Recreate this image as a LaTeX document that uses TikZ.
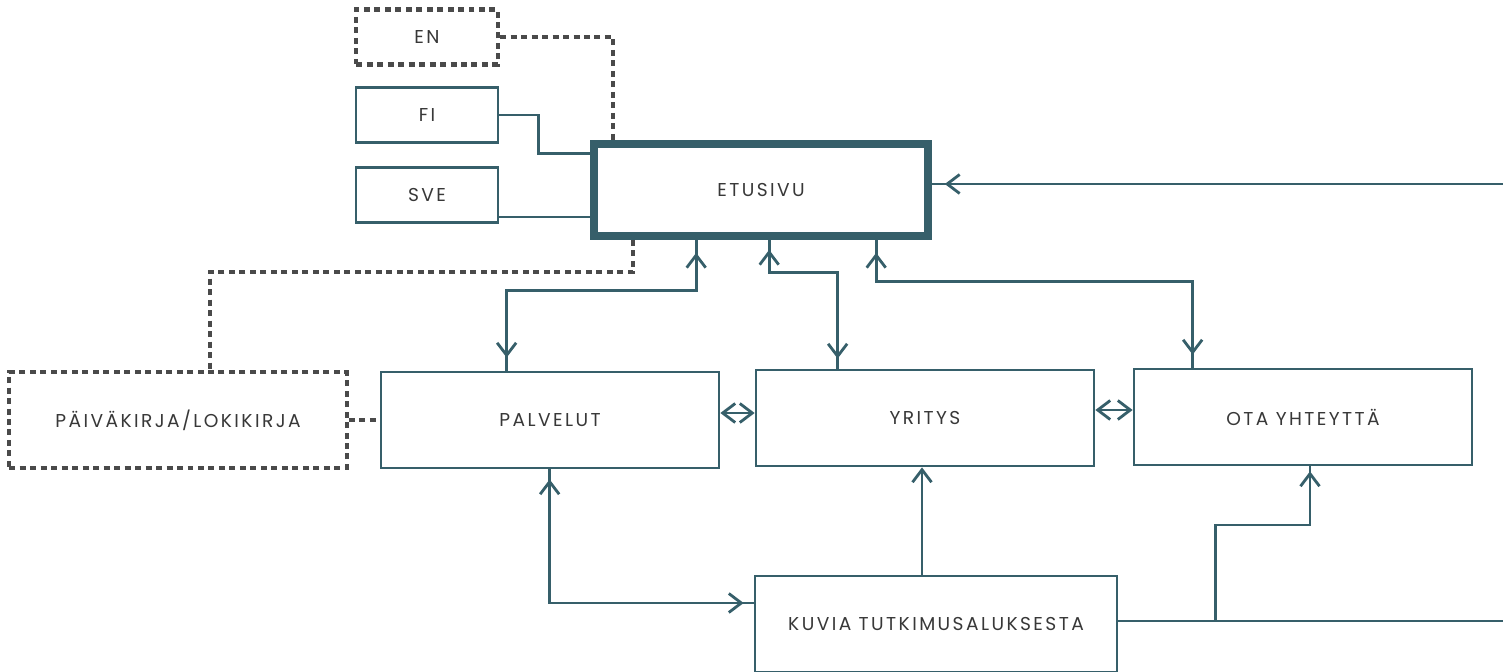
\documentclass[tikz,border=0pt]{standalone}
\usepackage{fontspec}
\newfontfamily\sitefont{Poppins}[LetterSpace=13]
\usepackage{xcolor}
\usepackage{tikz}
\usetikzlibrary{arrows.meta}
\usetikzlibrary{positioning}

\definecolor{sitelink}{HTML}{365F6A}
\definecolor{sitegrey}{HTML}{4A4A4A}
\definecolor{sitetext}{HTML}{383838}

\begin{document}
\begin{tikzpicture}[
    x=0.02cm, y=-0.02cm,
    >={Straight Barb[length=2.5mm, width=3.8mm]},
    page/.style={rectangle, draw=sitelink, line width=1.6pt, fill=white, text=sitetext,
      font=\sitefont\fontsize{10.6}{12}\selectfont, inner sep=0pt},
    draftpage/.style={page, draw=sitegrey, line width=2.3pt, dash pattern=on 1.2mm off 0.9mm},
    homepage/.style={page, line width=4.4pt},
    lang/.style={minimum width=2.84cm, minimum height=1.1cm},
    sect/.style={minimum width=6.76cm, minimum height=1.92cm},
    link/.style={draw=sitelink, line width=1.6pt},
    draftlink/.style={draw=sitegrey, line width=2.3pt, dash pattern=on 1.2mm off 0.9mm},
    gapto/.style={postaction={draw, ->, shorten >=#1}},
    gapboth/.style={postaction={draw, <->, shorten >=#1, shorten <=#1}},
  ]

  \path[use as bounding box, fill=white] (0,0) rectangle (1503,672);

  % Language versions
  \node[draftpage, lang] (EN)  at (427,37)  {EN};
  \node[page, lang]      (FI)  at (427,115) {FI};
  \node[page, lang]      (SVE) at (427,195) {SVE};

  % Front page
  \node[homepage, minimum width=6.68cm, minimum height=1.84cm] (ETUSIVU) at (761,190) {ETUSIVU};

  % Menu pages
  \node[draftpage, sect] (LOKI)     at (178,420)  {PÄIVÄKIRJA/LOKIKIRJA};
  \node[page, sect]      (PALVELUT) at (550,420)  {PALVELUT};
  \node[page, sect]      (YRITYS)   at (925,418)  {YRITYS};
  \node[page, sect]      (OTA)      at (1303,417) {OTA YHTEYTTÄ};
  \node[page, sect, minimum width=7.24cm] (KUVIA) at (936,624) {KUVIA TUTKIMUSALUKSESTA};

  % Language links
  \draw[draftlink] (EN.east) -| ([shift={(23,0)}]ETUSIVU.north west);
  \draw[link] (FI.east) -- ++(39,0) |- ([shift={(0,13)}]ETUSIVU.north west);
  \draw[link] ([shift={(0,22)}]SVE.east) coordinate (sv) -- (sv -| ETUSIVU.west);

  % Diary link
  \draw[draftlink] ([shift={(43,0)}]ETUSIVU.south west) -- ++(0,32) -| ([shift={(32,0)}]LOKI.north);
  \draw[draftlink] (LOKI.east) -- (PALVELUT.west);

  % Front page to menu
  \draw[link, gapboth=0.26cm] ([shift={(106,0)}]ETUSIVU.south west) -- ++(0,51) -| ([shift={(127,0)}]PALVELUT.north west);
  \draw[link, gapboth=0.2cm]  ([shift={(179,0)}]ETUSIVU.south west) -- ++(0,33) -| ([shift={(83,0)}]YRITYS.north west);
  \draw[link, gapboth=0.26cm] ([shift={(286,0)}]ETUSIVU.south west) -- ++(0,42) -| ([shift={(60,0)}]OTA.north west);

  % Between menu pages
  \draw[link, <->] ([shift={(0,-7)}]PALVELUT.east) coordinate (py) -- (py -| YRITYS.west);
  \draw[link, <->] ([shift={(0,-8)}]YRITYS.east) coordinate (yo) -- (yo -| OTA.west);

  % Picture page
  \draw[link, gapboth=0.2cm] ([shift={(170,0)}]PALVELUT.south west) |- ([shift={(0,-21)}]KUVIA.west);
  \draw[link, ->] ([shift={(-14,0)}]KUVIA.north) coordinate (ky) -- (ky |- YRITYS.south);
  \draw[link, gapto=0.1cm] ([shift={(97,-3)}]KUVIA.east) -- ++(0,-96) -| ([shift={(7,0)}]OTA.south);

  % Back to front page
  \coordinate (edgeB) at (1507,621);
  \coordinate (edgeT) at (1507,184);
  \draw[link, gapto=0.26cm] ([shift={(0,-3)}]KUVIA.east) -- (edgeB) -- (edgeT) -- (edgeT -| ETUSIVU.east);

\end{tikzpicture}
\end{document}
